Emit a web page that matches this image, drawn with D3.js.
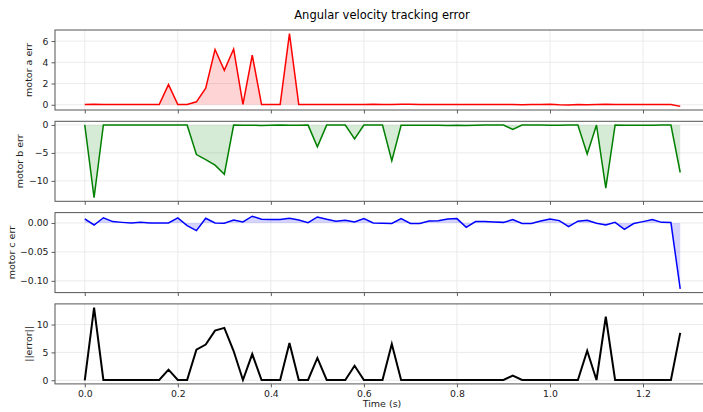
<!DOCTYPE html>
<html>
<head>
<meta charset="utf-8">
<script src="https://cdn.jsdelivr.net/npm/d3@7"></script>
<style>
  html, body { margin: 0; padding: 0; background: #fff; }
  svg { display: block; font-family: "DejaVu Sans", sans-serif; }
</style>
</head>
<body>
<svg id="chart" width="703" height="412"></svg>
<script>
// Sample times (s)
const time = [0.00,0.02,0.04,0.06,0.08,0.10,0.12,0.14,0.16,0.18,0.20,0.22,0.24,0.26,0.28,0.30,
  0.32,0.34,0.36,0.38,0.40,0.42,0.44,0.46,0.48,0.50,0.52,0.54,0.56,0.58,0.60,0.62,
  0.64,0.66,0.68,0.70,0.72,0.74,0.76,0.78,0.80,0.82,0.84,0.86,0.88,0.90,0.92,0.94,
  0.96,0.98,1.00,1.02,1.04,1.06,1.08,1.10,1.12,1.14,1.16,1.18,1.20,1.22,1.24,1.26,1.28];

// Per-motor angular velocity errors
const motorA = [0.03,0.04,0.02,0.03,0.02,0.02,0.02,0.02,0.02,1.9,0.02,0.03,0.28,1.57,5.2,3.24,
  5.25,0.03,4.68,0.02,0.02,0.02,6.7,0.02,0.03,0.02,0.03,0.02,0.02,0.02,0.02,0.05,
  0.02,0.03,0.05,0.04,0.02,0.03,0.02,0.02,0.03,0.02,0.03,0.02,0.02,0.02,0.02,0.01,
  0.02,0.03,0.04,0.0,-0.02,0.02,0.01,0.03,0.04,0.02,0.02,0.02,0.02,0.02,0.02,0.02,-0.15];

const motorB = [0,-13.0,0,-0.02,-0.01,-0.01,-0.01,-0.01,-0.01,-0.01,-0.01,-0.01,-5.3,-6.2,-7.2,-8.8,
  -0.02,-0.05,-0.05,-0.1,-0.05,-0.02,-0.05,-0.05,-0.03,-3.9,-0.03,-0.02,-0.02,-2.5,-0.02,-0.02,
  -0.02,-6.4,-0.05,-0.04,-0.05,-0.05,-0.04,-0.1,-0.05,-0.1,-0.05,-0.03,-0.02,-0.02,-0.8,-0.02,
  -0.02,-0.03,-0.05,-0.04,-0.03,-0.02,-5.2,-0.02,-11.3,-0.03,-0.05,-0.04,-0.04,-0.05,-0.03,-0.02,-8.5];

const motorC = [0.007,-0.0035,0.009,0.0023,0.001,0.0,0.001,0.0,0.0,0.0,0.0087,-0.0046,-0.0133,0.008,0.0,-0.0006,
  0.005,0.0017,0.0116,0.0064,0.0058,0.0058,0.008,0.005,0.0006,0.0104,0.0064,0.003,0.0046,0.0017,0.0075,0.0,
  -0.0003,-0.001,0.0075,-0.001,-0.001,0.0035,0.004,0.007,0.0075,-0.0075,0.0023,0.0023,0.0017,0.001,0.0058,-0.001,
  -0.001,0.0035,0.007,0.004,-0.0064,0.003,0.0046,-0.0006,-0.0035,0.001,-0.011,-0.001,0.0023,0.0058,0.001,0.0006,-0.114];

// Error vector magnitude
const errNorm = [0,13.05,0.05,0.05,0.05,0.05,0.05,0.05,0.05,1.9,0.05,0.05,5.5,6.4,8.9,9.4,
  5.25,0.05,4.7,0.05,0.05,0.05,6.7,0.05,0.05,4.0,0.05,0.05,0.05,2.6,0.05,0.05,
  0.05,6.5,0.05,0.05,0.05,0.05,0.05,0.05,0.05,0.05,0.05,0.05,0.05,0.05,0.85,0.05,
  0.05,0.05,0.05,0.05,0.05,0.05,5.3,0.05,11.4,0.05,0.05,0.05,0.05,0.05,0.05,0.05,8.5];

const xTicks = [0.0,0.2,0.4,0.6,0.8,1.0,1.2];
const yTicksA = [0,2,4,6];
const yTicksB = [-10,-5,0];
const yTicksC = [-0.10,-0.05,0.00];
const yTicksN = [0,5,10];

const panels = [
  { label: "motor a err", values: motorA, color: "#ff0000", fill: "rgba(255,0,0,0.17)", ticks: yTicksA, fmt: d3.format("d"), lw: 1.5, labelX: 32 },
  { label: "motor b err", values: motorB, color: "#008000", fill: "rgba(0,128,0,0.16)", ticks: yTicksB, fmt: d3.format("d"), lw: 1.5, labelX: 23 },
  { label: "motor c err", values: motorC, color: "#0000ff", fill: "rgba(0,0,255,0.17)", ticks: yTicksC, fmt: d3.format(".2f"), lw: 1.5, labelX: 15 },
  { label: "||error||", values: errNorm, color: "#000000", fill: null, ticks: yTicksN, fmt: d3.format("d"), lw: 2, labelX: 32 }
];

const svg = d3.select("#chart");
const left = 55, right = 710;
const tops = [30, 121.3, 212.6, 303.9];
const panelH = 80;

// padded extent, 5% on each side
function padded(ext) {
  const span = ext[1] - ext[0];
  return [ext[0] - 0.05 * span, ext[1] + 0.05 * span];
}
const minus = s => s.replace(/-/g, "\u2212");

const x = d3.scaleLinear().domain(padded(d3.extent(time))).range([left, right]);

svg.append("text")
  .attr("x", 382).attr("y", 19)
  .attr("text-anchor", "middle")
  .attr("font-size", 11.5)
  .attr("fill", "#000")
  .text("Angular velocity tracking error");

panels.forEach((p, k) => {
  const top = tops[k], bottom = top + panelH;
  const y = d3.scaleLinear().domain(padded(d3.extent(p.values))).range([bottom, top]);
  const g = svg.append("g");

  const clipId = "clip" + k;
  g.append("clipPath").attr("id", clipId)
    .append("rect").attr("x", left).attr("y", top).attr("width", right - left).attr("height", panelH);

  // grid
  const grid = g.append("g").attr("stroke", "#e6e6e6").attr("stroke-width", 0.8);
  xTicks.forEach(t => grid.append("line").attr("x1", x(t)).attr("x2", x(t)).attr("y1", top).attr("y2", bottom));
  p.ticks.forEach(t => grid.append("line").attr("x1", left).attr("x2", right).attr("y1", y(t)).attr("y2", y(t)));

  const plot = g.append("g").attr("clip-path", `url(#${clipId})`);
  if (p.fill) {
    const area = d3.area().x((d, i) => x(time[i])).y0(y(0)).y1(d => y(d));
    plot.append("path").datum(p.values).attr("d", area).attr("fill", p.fill).attr("stroke", "none");
  }
  const line = d3.line().x((d, i) => x(time[i])).y(d => y(d));
  plot.append("path").datum(p.values).attr("d", line)
    .attr("fill", "none").attr("stroke", p.color).attr("stroke-width", p.lw)
    .attr("stroke-linejoin", "miter");

  // y axis
  const yAxis = d3.axisLeft(y).tickValues(p.ticks).tickSize(3.5).tickPadding(3).tickFormat(d => minus(p.fmt(d)));
  const ya = g.append("g").attr("transform", `translate(${left},0)`).call(yAxis);
  ya.select(".domain").remove();
  ya.selectAll(".tick line").attr("stroke", "#333").attr("stroke-width", 0.8);
  ya.selectAll("text").attr("font-size", 9.3).attr("fill", "#222").attr("font-family", "DejaVu Sans");

  // x axis
  const xAxis = d3.axisBottom(x).tickValues(xTicks).tickSize(3.5).tickPadding(3).tickFormat(d3.format(".1f"));
  const xa = g.append("g").attr("transform", `translate(0,${bottom})`).call(xAxis);
  xa.select(".domain").remove();
  xa.selectAll(".tick line").attr("stroke", "#333").attr("stroke-width", 0.8);
  if (k < panels.length - 1) xa.selectAll("text").remove();
  else xa.selectAll("text").attr("font-size", 9.3).attr("fill", "#222").attr("font-family", "DejaVu Sans");

  // frame
  g.append("rect").attr("x", left).attr("y", top).attr("width", right - left).attr("height", panelH)
    .attr("fill", "none").attr("stroke", "#555").attr("stroke-width", 1);

  g.append("text")
    .attr("transform", `translate(${p.labelX},${top + panelH / 2}) rotate(-90)`)
    .attr("text-anchor", "middle")
    .attr("font-size", 9.5).attr("fill", "#222")
    .text(p.label);
});

svg.append("text")
  .attr("x", 382).attr("y", 407)
  .attr("text-anchor", "middle")
  .attr("font-size", 9.5).attr("fill", "#222")
  .text("Time (s)");
</script>
</body>
</html>
